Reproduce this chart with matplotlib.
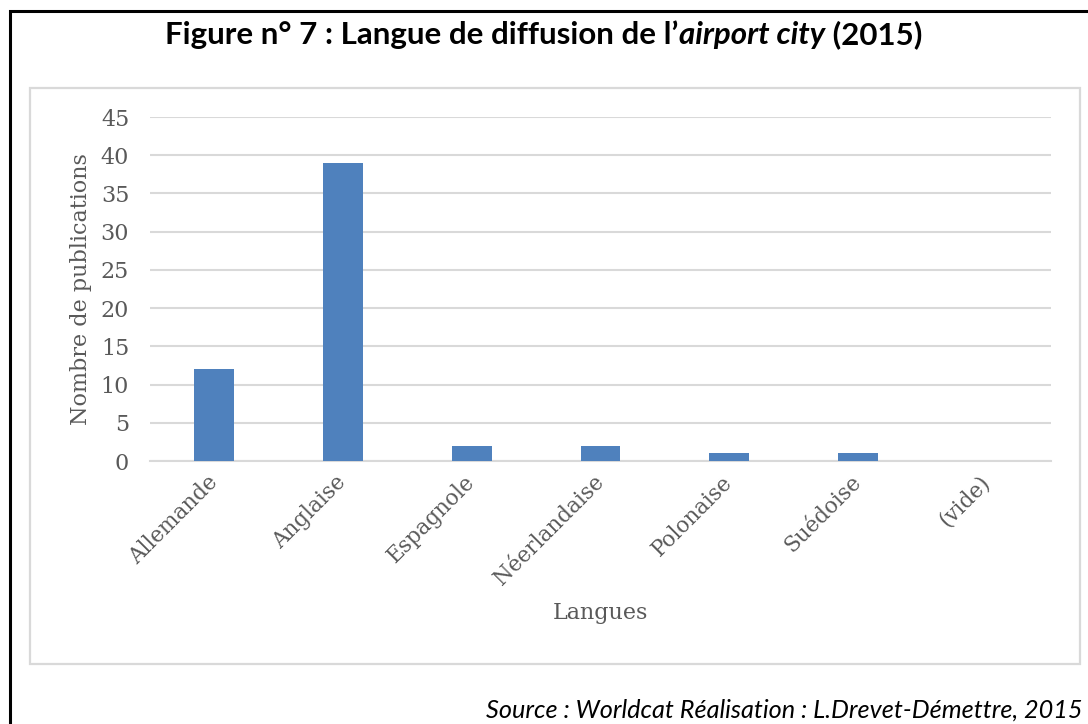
import numpy as np
import matplotlib
matplotlib.use("Agg")
from matplotlib import pyplot as plt
from matplotlib.patches import Rectangle

# data
langues = ['Allemande', 'Anglaise', 'Espagnole', 'Néerlandaise', 'Polonaise', 'Suédoise', '(vide)']
publications = [12, 39, 2, 2, 1, 1, 0]
yticks = [0, 5, 10, 15, 20, 25, 30, 35, 40, 45]

W, H = 1088, 724
fig = plt.figure(figsize=(W / 100, H / 100), dpi=100)
fig.patch.set_facecolor('white')

serif = 'DejaVu Serif'
grey_txt = '#595959'
grid_col = '#d9d9d9'

# outer black frame (right and bottom run off the page)
fig.patches.append(Rectangle((10 / W, -0.05), 1.2, 1 - 11 / H + 0.05, transform=fig.transFigure,
                             fill=False, edgecolor='black', linewidth=2.2, zorder=0))
# inner grey chart frame
fig.patches.append(Rectangle((30 / W, 1 - 664 / H), (1080 - 30) / W, (664 - 88) / H,
                             transform=fig.transFigure, fill=False, edgecolor=grid_col,
                             linewidth=1.6, zorder=0))

ax = fig.add_axes([150 / W, 1 - 461 / H, (1051 - 150) / W, (461 - 117) / H])
x = np.arange(len(langues))
ax.bar(x, publications, width=0.31, color='#4F81BD', zorder=3)
ax.set_xlim(-0.5, len(langues) - 0.5)
ax.set_ylim(0, 45)
ax.set_yticks(yticks)
ax.grid(axis='y', color=grid_col, linewidth=1.5, zorder=0)
for s in ['top', 'right', 'left']:
    ax.spines[s].set_visible(False)
ax.spines['bottom'].set_color(grid_col)
ax.spines['bottom'].set_linewidth(1.5)
ax.tick_params(axis='both', length=0, colors=grey_txt)
ax.tick_params(axis='y', pad=15, labelsize=16)
ax.tick_params(axis='x', pad=13, labelsize=15.5)
ax.set_xticks(x)
ax.set_xticklabels(langues, rotation=45, ha='right', va='center', rotation_mode='anchor', family=serif)
for lab in ax.get_yticklabels():
    lab.set_family(serif)
ax.set_ylabel('Nombre de publications', family=serif, fontsize=16, color=grey_txt, labelpad=6)
ax.set_xlabel('Langues', family=serif, fontsize=16, color=grey_txt, labelpad=9)

# title in three pieces: bold, bold italic, bold
tfont = 'Lato'
ty = 1 - 35 / H
tsize = 22.5
t1 = fig.text(0.5, ty, 'Figure n° 7 : Langue de diffusion de l\u2019', family=tfont,
              fontweight='bold', fontsize=tsize, va='center', ha='left')
t2 = fig.text(0, 0, 'airport city', family=tfont, fontweight='bold', style='italic',
              fontsize=tsize, va='center', ha='left')
t3 = fig.text(0, 0, ' (2015)', family=tfont, fontweight='bold', fontsize=tsize, va='center', ha='left')
r = fig.canvas.get_renderer()
w1 = t1.get_window_extent(r).width
w2 = t2.get_window_extent(r).width
w3 = t3.get_window_extent(r).width
x0 = 543 - (w1 + w2 + w3) / 2
t1.set_x(x0 / W)
t2.set_position(((x0 + w1 + 1) / W, ty))
t3.set_position(((x0 + w1 + w2 + 1) / W, ty))

fig.text(1083 / W, 1 - 710 / H, 'Source : Worldcat Réalisation : L.Drevet-Démettre, 2015',
         family=tfont, style='italic', fontsize=18.2, ha='right', va='center')

fig.savefig('out.png', dpi=100)
